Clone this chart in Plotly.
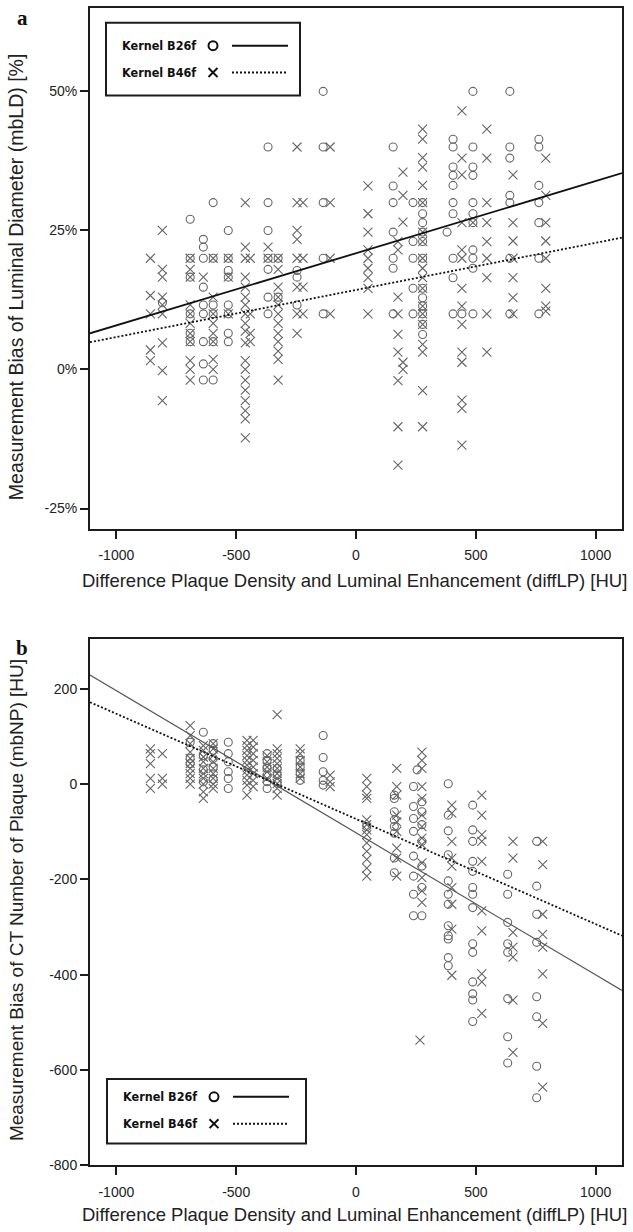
import plotly.graph_objects as go

W, H = 633, 1232

# ---------------- DATA ----------------
x_ticks = [-1000, -500, 0, 500, 1000]
x_ticktext = ["-1000", "-500", "0", "500", "1000"]
a_yticks = [-25, 0, 25, 50]
a_yticktext = ["-25%", "0%", "25%", "50%"]
b_yticks = [-800, -600, -400, -200, 0, 200]
b_yticktext = ["-800", "-600", "-400", "-200", "0", "200"]

x_title = "Difference Plaque Density and Luminal Enhancement (diffLP) [HU]"
a_ytitle = "Measurement Bias of Luminal Diameter (mbLD) [%]"
b_ytitle = "Measurement Bias of CT Number of Plaque (mbNP) [HU]"
series_names = ["Kernel B26f", "Kernel B46f"]

# Panel a, Kernel B26f (circles): (diffLP, mbLD %)
a_b26f = [
    (-808, 12),
    (-692, 27), (-692, 20), (-692, 16.6), (-692, 10), (-692, 6.5), (-692, 5),
    (-637, 23.4), (-637, 22), (-637, 20), (-637, 14.8), (-637, 11.6), (-637, 10), (-637, 5), (-637, 1), (-637, -1.9),
    (-596, 30), (-596, 20), (-596, 11.6), (-596, 10), (-596, 5), (-596, -1.9),
    (-533, 25), (-533, 20), (-533, 17.8), (-533, 16.6), (-533, 11.6), (-533, 10), (-533, 6.5), (-533, 5),
    (-367, 40), (-367, 30), (-367, 25), (-367, 20), (-367, 18), (-367, 13), (-367, 10),
    (-325, 20), (-325, 13),
    (-246, 17.8), (-246, 16.6), (-246, 11.6),
    (-137, 50), (-137, 40), (-137, 30), (-137, 20), (-137, 10),
    (155, 40), (155, 33), (155, 30), (155, 24.7), (155, 20), (155, 18.2), (155, 10),
    (238, 30), (238, 23), (238, 20), (238, 14.6), (238, 10),
    (278, 30), (278, 28), (278, 26.4), (278, 24.7), (278, 23), (278, 20), (278, 14.6), (278, 12.9),
    (278, 11.4), (278, 10), (278, 8.1), (278, 6.3),
    (380, 24.7),
    (405, 41.4), (405, 40), (405, 36.4), (405, 34.9), (405, 33.1), (405, 30), (405, 28), (405, 20), (405, 16.5), (405, 10),
    (442, 10),
    (488, 50), (488, 40), (488, 36.4), (488, 34.9), (488, 30), (488, 28), (488, 26.4), (488, 21.5), (488, 20), (488, 18.2), (488, 10),
    (642, 50), (642, 40), (642, 38), (642, 31.3), (642, 30), (642, 20), (642, 10),
    (763, 41.4), (763, 40), (763, 33.1), (763, 30), (763, 26.4), (763, 20), (763, 10),
]

# Panel a, Kernel B46f (crosses)
a_b46f = [
    (-858, 20), (-858, 13.3), (-858, 10), (-858, 3.5), (-858, 1.6),
    (-808, 25), (-808, 18), (-808, 16.6), (-808, 13), (-808, 11.6), (-808, 10), (-808, 4.8), (-808, -0.2), (-808, -5.6),
    (-692, 20), (-692, 18), (-692, 16.6), (-692, 11.6), (-692, 10), (-692, 8.3), (-692, 6.5), (-692, 5),
    (-692, 1.6), (-692, 0), (-692, -1.9),
    (-637, 16.6),
    (-596, 20), (-596, 13), (-596, 10), (-596, 8.3), (-596, 6.5), (-596, 5), (-596, 1.8), (-596, 0),
    (-533, 20), (-533, 16.6), (-533, 10),
    (-462, 30), (-462, 22), (-462, 20), (-462, 16.6), (-462, 14.8), (-462, 13), (-462, 11.6), (-462, 10), (-462, 8.3),
    (-462, 6.9), (-462, 4.8), (-462, 1.6), (-462, 0), (-462, -1.9), (-462, -3.7), (-462, -5.6), (-462, -7.4),
    (-462, -8.9), (-462, -12.3),
    (-441, 20), (-441, 10), (-441, 6.5), (-441, 5),
    (-367, 22), (-367, 20),
    (-325, 20), (-325, 18), (-325, 14.8), (-325, 13), (-325, 11.6), (-325, 10), (-325, 8.3), (-325, 6.5), (-325, 5),
    (-325, 3.3), (-325, 1.8), (-325, -1.9),
    (-246, 40), (-246, 30), (-246, 25), (-246, 23.4), (-246, 20), (-246, 14.8), (-246, 10), (-246, 6.5),
    (-221, 30), (-221, 20), (-221, 14.8), (-221, 10),
    (-108, 40), (-108, 30), (-108, 20), (-108, 10),
    (50, 33), (50, 28), (50, 24.7), (50, 21.5), (50, 20), (50, 18.2), (50, 16.5), (50, 14.6), (50, 10),
    (196, 35.5), (196, 31.3), (196, 26.5), (175, 23), (175, 21.5), (175, 13), (175, 10), (175, 6.3), (175, 3.1),
    (196, 1.3), (196, 0), (175, -2), (175, -10.3), (175, -17.2),
    (278, 43.2), (278, 41.4), (278, 38.1), (278, 36.4), (278, 33.1), (278, 30), (278, 24.7), (278, 23), (278, 20),
    (278, 18.2), (278, 16.5), (278, 14.6), (278, 11.4), (278, 10), (278, 8.1), (278, 4.5), (278, 3.1), (278, -3.8),
    (278, -10.3),
    (442, 46.5), (442, 38), (442, 35), (442, 26.4), (442, 21.5), (442, 20), (442, 14.6), (442, 11.4), (442, 8.1),
    (442, 3.1), (442, 1.3), (442, -5.5), (442, -7), (442, -13.6),
    (488, 26.4),
    (546, 43.2), (546, 38), (546, 30), (546, 26.4), (546, 23), (546, 20), (546, 16.5), (546, 10), (546, 3.1),
    (655, 35), (655, 26.4), (655, 23.1), (655, 20), (655, 16.5), (655, 12.9), (655, 10),
    (792, 38), (792, 31.3), (792, 26.4), (792, 23.1), (792, 20), (792, 14.6), (792, 11.4), (792, 10.5),
]

# Panel b, Kernel B26f (circles): (diffLP, mbNP HU)
b_b26f = [
    (-692, 88), (-692, 54), (-692, 43),
    (-637, 109), (-637, 60), (-637, 30), (-637, 5),
    (-596, 85), (-596, 71), (-596, 54), (-596, 36), (-596, 10),
    (-533, 88), (-533, 64), (-533, 47), (-533, 26), (-533, 12), (-533, -9),
    (-371, 64), (-371, 50), (-371, 33), (-371, 19), (-371, 5), (-371, -9),
    (-329, 33), (-329, 19), (-329, 5),
    (-233, 50), (-233, 36), (-233, 22), (-233, 8),
    (-137, 102), (-137, 56), (-137, 26), (-137, 8), (-137, -2),
    (45, -89),
    (160, -23), (160, -30), (160, -58), (160, -75), (160, -89), (160, -103), (160, -155), (160, -186),
    (255, 30), (240, -5), (275, -37), (240, -47), (275, -58), (240, -72), (275, -85), (240, -99), (275, -120),
    (240, -151), (275, -172), (240, -193), (275, -217), (240, -231), (240, -276), (275, -276),
    (385, 1), (385, -65), (385, -98), (385, -148), (385, -203), (385, -231), (385, -252), (385, -297), (385, -318),
    (385, -325), (385, -364), (385, -381),
    (487, -44), (487, -96), (487, -120), (487, -162), (487, -183), (487, -217), (487, -231), (487, -259), (487, -335),
    (487, -353), (487, -415), (487, -440), (487, -453), (487, -498),
    (633, -189), (633, -231), (633, -290), (633, -335), (633, -353), (633, -450), (633, -530), (633, -585),
    (754, -120), (754, -214), (754, -273), (754, -332), (754, -446), (754, -488), (754, -592), (754, -658),
]

# Panel b, Kernel B46f (crosses)
b_b46f = [
    (-858, 74), (-858, 64), (-858, 43), (-858, 12), (-858, -9),
    (-808, 64), (-808, 12), (-808, 0),
    (-692, 123), (-692, 102), (-692, 85), (-692, 67), (-692, 54), (-692, 43), (-692, 33), (-692, 22), (-692, 12), (-692, 0),
    (-637, 81), (-637, 71), (-637, 57), (-637, 47), (-637, 33), (-637, 22), (-637, 12), (-637, 0), (-637, -16), (-637, -30),
    (-596, 85), (-596, 74), (-596, 60), (-596, 47), (-596, 33), (-596, 22), (-596, 12), (-596, 0), (-596, -9),
    (-455, 92), (-455, 81), (-455, 71), (-455, 60), (-455, 50), (-455, 40), (-455, 29), (-455, 19), (-455, 8),
    (-455, -2), (-455, -23),
    (-429, 92), (-429, 78), (-429, 64), (-429, 50), (-429, 36), (-429, 22), (-429, 8), (-429, -5),
    (-371, 60), (-371, 47), (-371, 36), (-371, 26), (-371, 12),
    (-329, 146), (-329, 74), (-329, 64), (-329, 54), (-329, 43), (-329, 33), (-329, 22), (-329, 12), (-329, 1),
    (-329, -9), (-329, -23),
    (-233, 74), (-233, 64), (-233, 50), (-233, 36), (-233, 22), (-233, 12),
    (-108, 19), (-108, 5), (-108, -5),
    (45, 12), (45, -5), (45, -23), (45, -30), (45, -75), (45, -85), (45, -96), (45, -106), (45, -123), (45, -141),
    (45, -158), (45, -176), (45, -193),
    (170, 33), (170, -5), (170, -23), (170, -65), (170, -79), (170, -99), (170, -134), (170, -155), (170, -193),
    (275, 67), (275, 50), (275, 33), (275, -5), (275, -30), (275, -65), (275, -89), (275, -113), (275, -127),
    (275, -165), (275, -196), (275, -224), (275, -248), (267, -537),
    (400, -44), (400, -61), (400, -120), (400, -155), (400, -172), (400, -217), (400, -252), (400, -304), (400, -401),
    (525, -23), (525, -65), (525, -106), (525, -120), (525, -162), (525, -266), (525, -308), (525, -398), (525, -415),
    (525, -481),
    (655, -120), (655, -155), (655, -311), (655, -342), (655, -363), (655, -453), (655, -563),
    (779, -120), (779, -169), (779, -273), (779, -315), (779, -342), (779, -398), (779, -502), (779, -636),
]

# Regression lines: (intercept, slope per HU)
a_fit = {"Kernel B26f": (20.9, 0.01297), "Kernel B46f": (14.3, 0.00847)}
b_fit = {"Kernel B26f": (-102.0, -0.2982), "Kernel B46f": (-73.0, -0.2207)}

x_range = [-1110, 1110]
a_range = [-28.6, 65]
b_range = [-800, 305]

# ---------------- LAYOUT HELPERS ----------------
def px(x):
    return x / W

def py(y):
    return 1 - y / H

MARK = "#666666"
AX = "#1c1c1c"
SANS = "Liberation Sans, Arial, sans-serif"
NARROW = "Liberation Sans Narrow, DejaVu Sans Condensed, Arial Narrow, sans-serif"

fig = go.Figure()

def add_panel(points_o, points_x, fits, xa, ya, solid_color, solid_w):
    fig.add_trace(go.Scatter(
        x=[p[0] for p in points_o], y=[p[1] for p in points_o], mode="markers",
        marker=dict(symbol="circle-open", size=8, color=MARK, line=dict(width=1.1, color=MARK)),
        xaxis=xa, yaxis=ya, showlegend=False, name=series_names[0]))
    fig.add_trace(go.Scatter(
        x=[p[0] for p in points_x], y=[p[1] for p in points_x], mode="markers",
        marker=dict(symbol="x-thin-open", size=9, color=MARK, line=dict(width=1.1, color=MARK)),
        xaxis=xa, yaxis=ya, showlegend=False, name=series_names[1]))
    for name, dash, col, w in [(series_names[0], "solid", solid_color, solid_w),
                               (series_names[1], "2px,2px", "#111111", 1.8)]:
        b0, b1 = fits[name]
        xs = list(x_range)
        fig.add_trace(go.Scatter(
            x=xs, y=[b0 + b1 * v for v in xs], mode="lines",
            line=dict(color=col, width=w, dash=dash),
            xaxis=xa, yaxis=ya, showlegend=False, name=name, hoverinfo="skip"))

add_panel(a_b26f, a_b46f, a_fit, "x", "y", "#111111", 1.8)
add_panel(b_b26f, b_b46f, b_fit, "x2", "y2", "#555555", 1.2)

axis_common = dict(showline=True, mirror=True, linecolor=AX, linewidth=2,
                   ticks="outside", ticklen=8, tickwidth=1.5, tickcolor=AX,
                   showgrid=False, zeroline=False,
                   tickfont=dict(family=SANS, size=14, color="#222222"))

x_dom = [px(90), px(622)]
fig.update_layout(
    width=W, height=H, margin=dict(l=0, r=0, t=0, b=0),
    paper_bgcolor="white", plot_bgcolor="white", showlegend=False,
    xaxis=dict(domain=x_dom, range=x_range, tickvals=x_ticks, ticktext=x_ticktext, anchor="y",
               ticklabelstandoff=5, **axis_common),
    yaxis=dict(domain=[py(532), py(8)], range=a_range, tickvals=a_yticks, ticktext=a_yticktext, anchor="x", **axis_common),
    xaxis2=dict(domain=x_dom, range=x_range, tickvals=x_ticks, ticktext=x_ticktext, anchor="y2",
                ticklabelstandoff=5, **axis_common),
    yaxis2=dict(domain=[py(1173), py(643)], range=b_range, tickvals=b_yticks, ticktext=b_yticktext, anchor="x2", **axis_common),
)

annotations = []
shapes = []

def text(x, y, s, size, family=SANS, angle=0, xanchor="center", bold=False, color="#222222"):
    annotations.append(dict(x=px(x), y=py(y), xref="paper", yref="paper", text=("<b>%s</b>" % s) if bold else s,
                            showarrow=False, textangle=angle, xanchor=xanchor, yanchor="middle",
                            font=dict(family=family, size=size, color=color)))

# panel letters
text(22, 18, "a", 21, family="Liberation Serif, Times New Roman, serif", bold=True, color="#111111")
text(22, 652, "b", 21, family="Liberation Serif, Times New Roman, serif", bold=True, color="#111111")
# axis titles
text(354, 584, x_title, 18.5)
text(354, 1222, x_title, 18.5)
text(16, 279, a_ytitle, 19.5, angle=-90)
text(16, 906, b_ytitle, 19, angle=-90)

def legend(x0, y0, x1, y1, r1, r2):
    shapes.append(dict(type="rect", xref="paper", yref="paper", x0=px(x0), x1=px(x1), y0=py(y0), y1=py(y1),
                       line=dict(color=AX, width=2), fillcolor="white", layer="above"))
    text(x0 + 14, r1, series_names[0], 12.5, family=NARROW, xanchor="left", bold=True, color="#111111")
    text(x0 + 14, r2, series_names[1], 12.5, family=NARROW, xanchor="left", bold=True, color="#111111")
    cx = x0 + 107
    shapes.append(dict(type="circle", xref="paper", yref="paper", x0=px(cx - 4.5), x1=px(cx + 4.5),
                       y0=py(r1 - 4.5), y1=py(r1 + 4.5), line=dict(color="#111111", width=2), layer="above"))
    for d in (1, -1):
        shapes.append(dict(type="line", xref="paper", yref="paper", x0=px(cx - 4.5), x1=px(cx + 4.5),
                           y0=py(r2 - 4.5 * d), y1=py(r2 + 4.5 * d), line=dict(color="#111111", width=2), layer="above"))
    shapes.append(dict(type="line", xref="paper", yref="paper", x0=px(x0 + 126), x1=px(x0 + 182),
                       y0=py(r1), y1=py(r1), line=dict(color="#111111", width=2), layer="above"))
    shapes.append(dict(type="line", xref="paper", yref="paper", x0=px(x0 + 126), x1=px(x0 + 182),
                       y0=py(r2), y1=py(r2), line=dict(color="#111111", width=2, dash="2px,2px"), layer="above"))

legend(106, 23, 300, 96, 46, 73)
legend(107, 1086, 306, 1151, 1104, 1131)

fig.update_layout(annotations=annotations, shapes=shapes)

fig.write_html("out.html", config={"displayModeBar": False},
               post_script="document.body.style.margin='0';document.body.style.overflow='hidden';")
